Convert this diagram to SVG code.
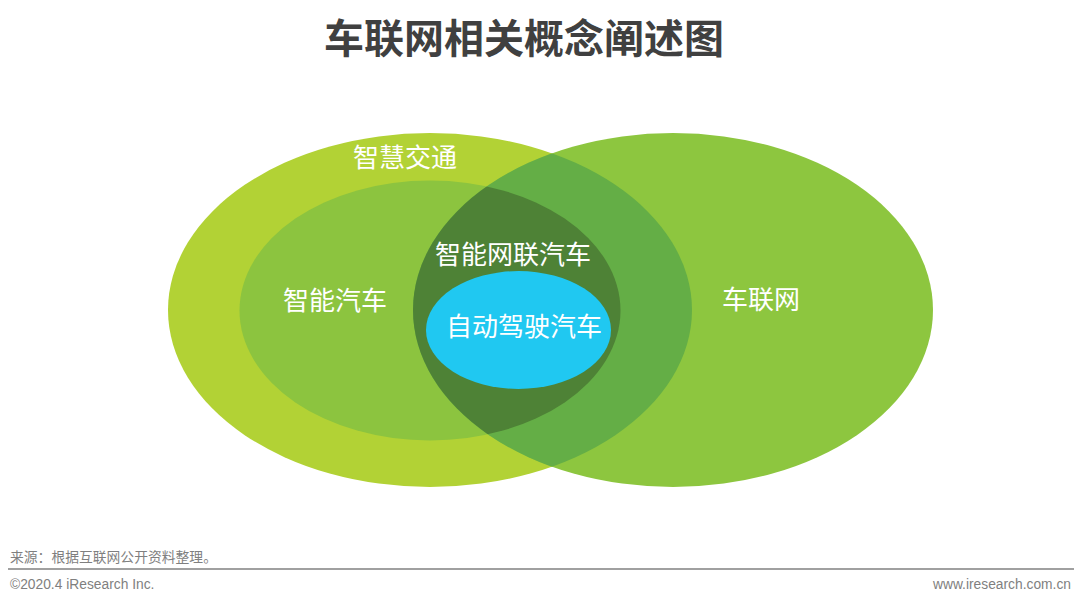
<svg xmlns="http://www.w3.org/2000/svg" width="1080" height="604" viewBox="0 0 1080 604">
<style>
.lbl{font-family:"Noto Sans CJK SC","Noto Sans",sans-serif;font-size:26px;fill:#ffffff;text-anchor:middle}
.title{font-family:"Noto Sans CJK SC","Noto Sans",sans-serif;font-size:40px;font-weight:bold;fill:#404040;text-anchor:middle}
.foot{font-family:"Liberation Sans","Noto Sans CJK SC",sans-serif;font-size:13.8px;fill:#7f7f7f}
</style>
<defs>
<clipPath id="clipLeft"><ellipse cx="430" cy="310" rx="262" ry="177"/></clipPath>
<clipPath id="clipInner"><ellipse cx="430" cy="310.5" rx="190.5" ry="130"/></clipPath>
</defs>
<rect width="1080" height="604" fill="#ffffff"/>
<text class="title" x="524" y="53">车联网相关概念阐述图</text>
<g id="smart-traffic">
<ellipse cx="430" cy="310" rx="262" ry="177" fill="#b2d235"/>
</g>
<g id="smart-car">
<ellipse cx="430" cy="310.5" rx="190.5" ry="130" fill="#8cc43f"/>
</g>
<g id="iov">
<ellipse cx="673" cy="310" rx="260" ry="177" fill="#8dc63f"/>
<ellipse cx="673" cy="310" rx="260" ry="177" fill="#64ae46" clip-path="url(#clipLeft)"/>
</g>
<g id="icv">
<ellipse cx="673" cy="310" rx="260" ry="177" fill="#4e8236" clip-path="url(#clipInner)"/>
</g>
<g id="autonomous">
<ellipse cx="518.5" cy="330" rx="92.5" ry="59" fill="#20c8f1"/>
</g>
<g id="labels">
<text class="lbl" x="405" y="167">智慧交通</text>
<text class="lbl" x="335" y="310">智能汽车</text>
<text class="lbl" x="513" y="264">智能网联汽车</text>
<text class="lbl" x="524" y="336">自动驾驶汽车</text>
<text class="lbl" x="761" y="309">车联网</text>
</g>
<g id="connectors"></g>
<g id="footer">
<text class="foot" x="10" y="562" font-size="12.5">来源：根据互联网公开资料整理。</text>
<line x1="8" y1="569" x2="1074" y2="569" stroke="#808080" stroke-width="1.5"/>
<text class="foot" x="10" y="589">©2020.4 iResearch Inc.</text>
<text class="foot" x="1071" y="589" text-anchor="end">www.iresearch.com.cn</text>
</g>
</svg>
